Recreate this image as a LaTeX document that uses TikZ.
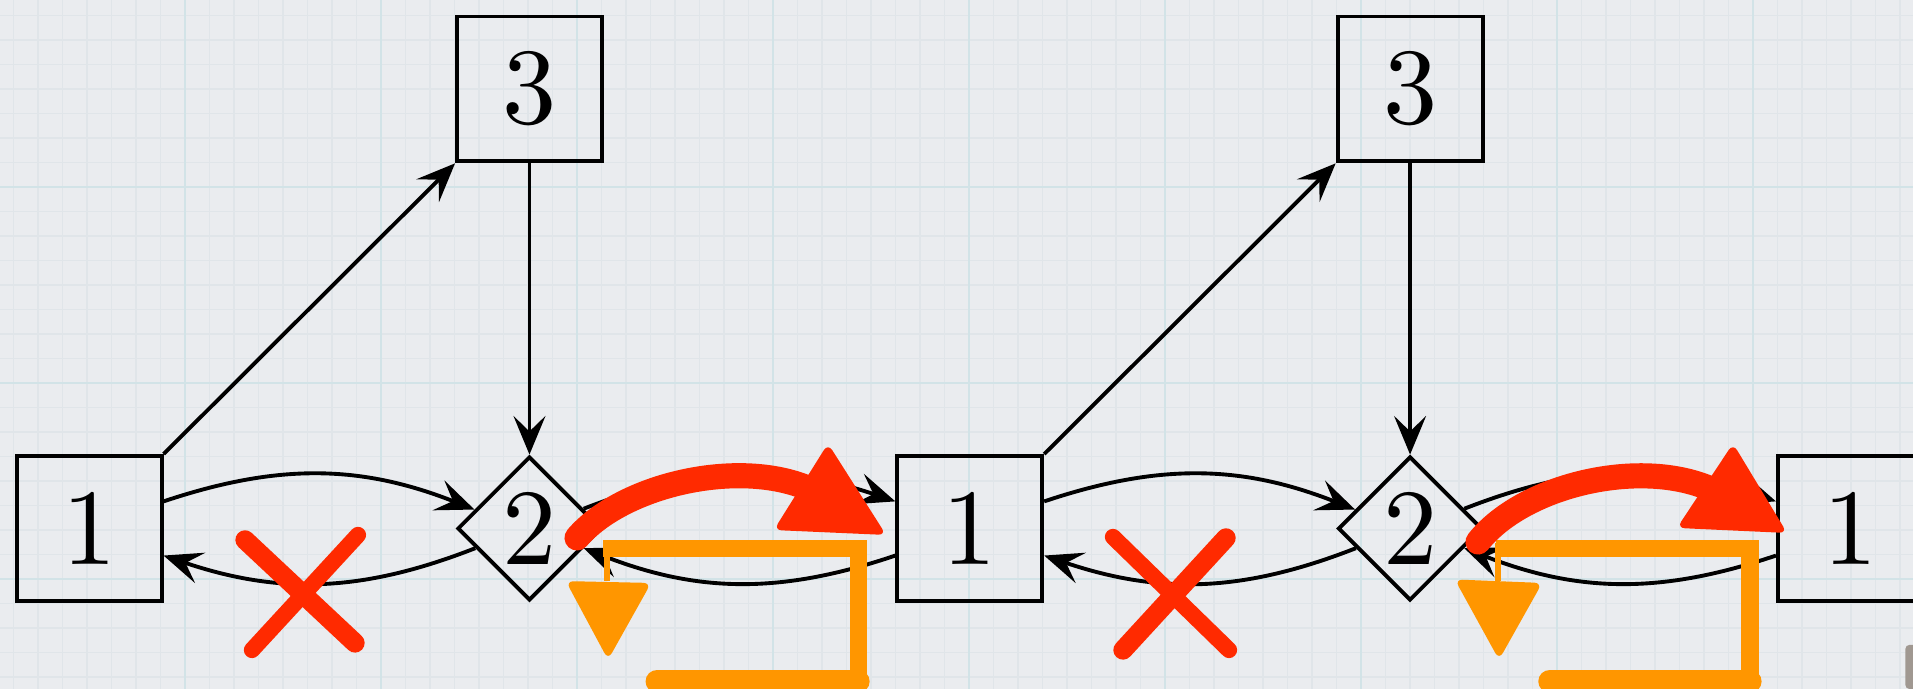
\documentclass[tikz,border=0pt]{standalone}
\usepackage{fontspec}
\newfontfamily\digitfont{lmroman10-regular}[Extension=.otf]
\usepackage{tikz}
\usetikzlibrary{shapes.geometric, arrows.meta, positioning, calc}
\definecolor{mydark}{RGB}{0,0,0}
\definecolor{mypaper}{RGB}{234,236,239}
\definecolor{mygrid}{RGB}{224,229,233}
\definecolor{mymajor}{RGB}{210,227,231}
\definecolor{myred}{RGB}{255,42,0}
\definecolor{myorange}{RGB}{255,150,0}
\definecolor{mycursor}{RGB}{160,152,145}
\tikzset{
  block/.style={rectangle, draw=mydark, minimum size=1.317cm, inner sep=0pt,
    font=\digitfont\fontsize{28}{34}\selectfont, line width=1pt},
  decision/.style={diamond, draw=mydark, minimum size=1.308cm, inner sep=0pt,
    font=\digitfont\fontsize{28}{34}\selectfont, line width=1pt},
  arrow/.style={-{Stealth[length=3.5mm, width=2.9mm, inset=1.4mm]}, line width=1pt, color=mydark},
  redstroke/.style={line width=4.8pt, color=myred, line cap=round},
  orangestroke/.style={line width=4.4pt, color=myorange},
  minorgrid/.style={line width=0.35pt, color=mygrid},
  majorgrid/.style={line width=0.6pt, color=mymajor}
}

\begin{document}
\begin{tikzpicture}
  \useasboundingbox (0,0) rectangle (17.379,6.259);

  % Grid paper
  \begin{scope}
    \clip (0,0) rectangle (17.379,6.259);
    \fill[mypaper] (0,0) rectangle (17.379,6.259);
    \begin{scope}[shift={(1.6807,0.9993)}]
      \draw[minorgrid, step=0.22258] (-1.8,-1.1) grid (15.8,5.4);
      \draw[majorgrid, step=1.7806] (-1.8,-1.1) grid (15.8,5.4);
    \end{scope}
  \end{scope}

  % Left part
  \node[block] (n1) at (0.81,1.458) {1};
  \node[decision] (n2) at (4.81,1.458) {2};
  \node[block] (n3) at (4.81,5.451) {3};

  % Right part
  \node[block] (n1b) at (8.81,1.458) {1};
  \node[decision] (n2b) at (12.81,1.458) {2};
  \node[block] (n3b) at (12.81,5.451) {3};
  \node[block] (n1c) at (16.81,1.458) {1};

  % Edges, left part
  \draw[arrow] (n1.north east) -- (n3.south west);
  \draw[arrow] (n3.south) -- (n2.north);
  \draw[arrow] (n1.20) to[bend left=20] (n2.161);
  \draw[arrow] (n2.200) to[bend left=20] (n1.340);
  \draw[arrow] (n2.20) to[bend left=20] (n1b.160);
  \draw[arrow] (n1b.200) to[bend left=20] (n2.340);

  % Edges, right part
  \draw[arrow] (n1b.north east) -- (n3b.south west);
  \draw[arrow] (n3b.south) -- (n2b.north);
  \draw[arrow] (n1b.20) to[bend left=20] (n2b.161);
  \draw[arrow] (n2b.200) to[bend left=20] (n1b.340);
  \draw[arrow] (n2b.20) to[bend left=20] (n1c.160);
  \draw[arrow] (n1c.200) to[bend left=20] (n2b.340);

  % Crossed out edges
  \draw[redstroke, line width=5pt] (2.226,1.354) -- (3.225,0.418);
  \draw[redstroke, line width=4.2pt] (3.252,1.399) -- (2.289,0.354);
  \draw[redstroke, line width=4.2pt] (10.111,1.381) -- (11.165,0.354);
  \draw[redstroke, line width=5pt] (11.138,1.372) -- (10.202,0.354);

  % Orange loops
  \draw[orangestroke, line width=1.5pt] (5.514,1.326) -- (5.514,0.98);
  \draw[orangestroke] (5.478,1.272) -- (7.795,1.272) -- (7.795,-0.1);
  \draw[orangestroke, line width=6pt, line cap=round] (5.97,0.07) -- (7.795,0.07);
  \fill[myorange, rounded corners=2pt] (5.140,0.980) -- (5.915,0.963) -- (5.524,0.265) -- cycle;

  \draw[orangestroke, line width=1.5pt] (13.609,1.326) -- (13.609,0.98);
  \draw[orangestroke] (13.591,1.272) -- (15.898,1.272) -- (15.898,-0.1);
  \draw[orangestroke, line width=6pt, line cap=round] (14.08,0.07) -- (15.898,0.07);
  \fill[myorange, rounded corners=2pt] (13.216,0.995) -- (14.010,0.963) -- (13.618,0.265) -- cycle;

  % Red arcs
  \draw[redstroke, line width=6.5pt] (5.242,1.372) .. controls (5.65,1.85) and (6.7,2.1) .. (7.35,1.82);
  \fill[myred, rounded corners=2pt] (7.522,2.230) -- (7.030,1.444) -- (8.050,1.399) -- cycle;
  \draw[redstroke, line width=6.5pt] (13.427,1.335) .. controls (13.835,1.85) and (14.885,2.1) .. (15.535,1.82);
  \fill[myred, rounded corners=2pt] (15.744,2.230) -- (15.234,1.463) -- (16.235,1.417) -- cycle;

  % Cursor mark
  \fill[mycursor, rounded corners=1pt] (17.31,0) rectangle (17.42,0.40);
\end{tikzpicture}
\end{document}
